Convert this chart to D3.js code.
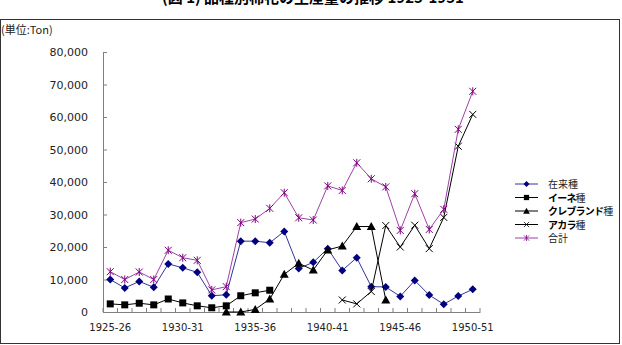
<!DOCTYPE html>
<html>
<head>
<meta charset="utf-8">
<script src="https://cdn.jsdelivr.net/npm/d3@7"></script>
<style>
  body { margin: 0; background: #fff; }
  svg { display: block; font-family: "DejaVu Sans", sans-serif; }
</style>
</head>
<body>
<svg id="chart" width="622" height="345"></svg>
<script>
// categories (crop years)
var years = ["1925-26", "1926-27", "1927-28", "1928-29", "1929-30", "1930-31", "1931-32",
  "1932-33", "1933-34", "1934-35", "1935-36", "1936-37", "1937-38", "1938-39", "1939-40",
  "1940-41", "1941-42", "1942-43", "1943-44", "1944-45", "1945-46", "1946-47", "1947-48",
  "1948-49", "1949-50", "1950-51"];
var yearLabels = ["1925-26", "1930-31", "1935-36", "1940-41", "1945-46", "1950-51"];
var yTicks = [0, 10000, 20000, 30000, 40000, 50000, 60000, 70000, 80000];

// series values (Ton)
var native = [10000, 7400, 9400, 7600, 14800, 13600, 12200, 5000, 5300, 21800, 21800, 21300, 24800,
  13400, 15300, 19500, 12800, 16700, 7800, 7700, 4800, 9700, 5200, 2400, 4900, 7000];
var ine = [2500, 2200, 2700, 2200, 4000, 2800, 1900, 1300, 1900, 5000, 5900, 6700,
  null, null, null, null, null, null, null, null, null, null, null, null, null, null];
var cleveland = [null, null, null, null, null, null, null, null, 0, 0, 800, 4000, 11600,
  15000, 12900, 19100, 20300, 26300, 26300, 3700, null, null, null, null, null, null];
var acala = [null, null, null, null, null, null, null, null, null, null, null, null, null,
  null, null, null, 3700, 2500, 6300, 26600, 20000, 26700, 19500, 29100, 51000, 60800];
var total = [12400, 10000, 12300, 10000, 19000, 16700, 15900, 6800, 7800, 27500, 28600, 31900, 36700,
  29000, 28300, 38800, 37400, 45900, 41000, 38500, 25100, 36400, 25400, 31600, 56200, 67900];

var series = [
  { name: "在来種", values: native, line: "#3333a0", fill: "#000080", marker: "diamond" },
  { name: "イーネ種", values: ine, line: "#000", fill: "#000", marker: "square" },
  { name: "クレブランド種", values: cleveland, line: "#000", fill: "#000", marker: "triangle" },
  { name: "アカラ種", values: acala, line: "#000", fill: "none", marker: "x" },
  { name: "合計", values: total, line: "#a040a8", fill: "#800080", marker: "star" }
];

var svg = d3.select("#chart");

// outer frame
svg.append("rect")
  .attr("x", 0.5).attr("y", 19.5)
  .attr("width", 619).attr("height", 324)
  .attr("fill", "none").attr("stroke", "#333").attr("stroke-width", 1);

// title (mostly cut off at the top)
svg.append("text")
  .attr("x", 313).attr("y", 3)
  .attr("text-anchor", "middle")
  .attr("font-family", "'Noto Sans CJK JP', sans-serif")
  .attr("font-size", 15).attr("font-weight", "bold")
  .text("(図 1) 品種別棉花の生産量の推移 1925-1951");

svg.append("text")
  .attr("x", 1).attr("y", 34)
  .attr("font-family", "'Noto Sans CJK JP', sans-serif")
  .attr("font-size", 11)
  .attr("fill", "#222")
  .text("(単位:Ton)");

var plotLeft = 103, plotRight = 480, plotTop = 52, plotBottom = 312;

var x = d3.scaleBand().domain(years).range([plotLeft, plotRight]);
var y = d3.scaleLinear().domain([0, 80000]).range([plotBottom, plotTop]);
var cx = function(i) { return x(years[i]) + x.bandwidth() / 2; };

// y axis
var yAxis = svg.append("g")
  .attr("transform", "translate(" + plotLeft + ",0)")
  .call(d3.axisLeft(y).tickValues(yTicks).tickFormat(d3.format(","))
    .tickSizeInner(-4).tickSizeOuter(0).tickPadding(15));
yAxis.selectAll("text").attr("font-size", 11).attr("fill", "#222").attr("font-family", "DejaVu Sans");
yAxis.selectAll("line, path").attr("stroke", "#808080");

// x axis
var xAxis = svg.append("g")
  .attr("transform", "translate(0," + plotBottom + ")")
  .call(d3.axisBottom(x).tickValues(yearLabels).tickSize(0).tickPadding(12));
xAxis.selectAll("text").attr("font-size", 10).attr("fill", "#222").attr("font-family", "DejaVu Sans");
xAxis.select("path").attr("stroke", "#808080");

// category boundary ticks (inside)
var bounds = years.map(function(d) { return x(d); }).concat([x.range()[1]]);
svg.append("g").selectAll("line")
  .data(bounds)
  .enter().append("line")
  .attr("x1", function(d) { return d; }).attr("x2", function(d) { return d; })
  .attr("y1", plotBottom).attr("y2", plotBottom - 4)
  .attr("stroke", "#808080");

function drawMarker(g, type, fill, stroke) {
  if (type === "diamond") {
    g.append("path").attr("d", "M0,-4L4,0L0,4L-4,0Z").attr("fill", fill);
  } else if (type === "square") {
    g.append("rect").attr("x", -3.5).attr("y", -3.5).attr("width", 7).attr("height", 7).attr("fill", fill);
  } else if (type === "triangle") {
    g.append("path").attr("d", "M0,-4.5L4.5,3.5L-4.5,3.5Z").attr("fill", fill);
  } else if (type === "x") {
    g.append("path").attr("d", "M-3.5,-3.5L3.5,3.5M-3.5,3.5L3.5,-3.5")
      .attr("stroke", stroke).attr("stroke-width", 1).attr("fill", "none");
  } else if (type === "star") {
    g.append("path").attr("d", "M-3.5,-3.5L3.5,3.5M-3.5,3.5L3.5,-3.5M0,-4L0,4")
      .attr("stroke", fill).attr("stroke-width", 1).attr("fill", "none");
  }
}

var line = d3.line()
  .defined(function(d) { return d !== null; })
  .x(function(d, i) { return cx(i); })
  .y(function(d) { return y(d); });

series.forEach(function(s) {
  svg.append("path")
    .datum(s.values)
    .attr("d", line)
    .attr("fill", "none")
    .attr("stroke", s.line)
    .attr("stroke-width", 1);
  s.values.forEach(function(v, i) {
    if (v === null) return;
    var g = svg.append("g").attr("transform", "translate(" + cx(i) + "," + y(v) + ")");
    drawMarker(g, s.marker, s.fill, s.line);
  });
});

// legend
var legend = svg.append("g").attr("transform", "translate(515,184)");
series.forEach(function(s, i) {
  var row = legend.append("g").attr("transform", "translate(0," + (i * 13.5) + ")");
  row.append("line").attr("x1", 0).attr("x2", 23).attr("y1", 0).attr("y2", 0)
    .attr("stroke", s.line).attr("stroke-width", 1);
  var m = row.append("g");
  drawMarker(m, s.marker, s.fill, s.line);
  m.attr("transform", "translate(11.5,0) scale(0.75)");
  var t = row.append("text").attr("x", 33).attr("y", 4)
    .attr("font-family", "'Noto Sans CJK JP', sans-serif")
    .attr("font-size", 10).attr("fill", "#222");
  var kana = s.name.replace("種", "");
  if (s.name !== kana && i > 0) {
    t.append("tspan").attr("font-weight", "bold").attr("fill", "#000")
      .attr("letter-spacing", -0.8).text(kana);
    t.append("tspan").attr("letter-spacing", 0).text("種");
  } else {
    t.text(s.name);
  }
});
</script>
</body>
</html>
